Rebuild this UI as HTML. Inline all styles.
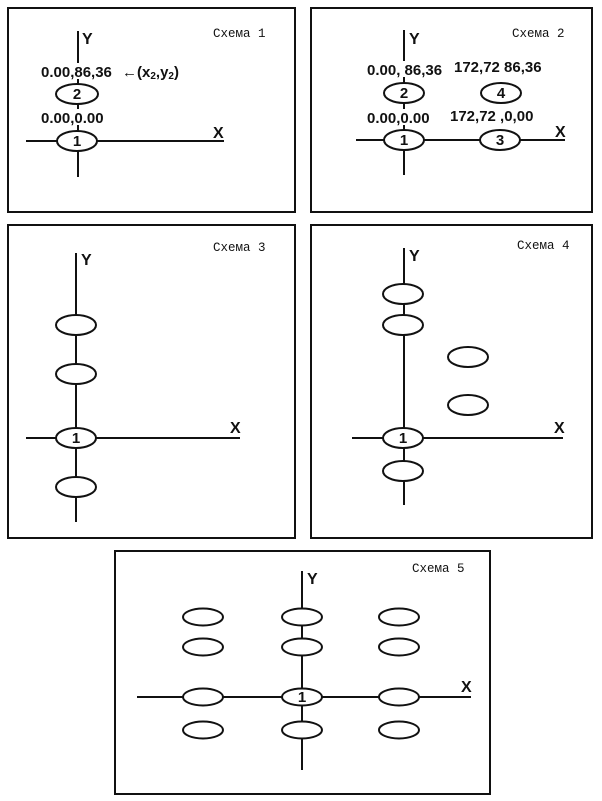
<!DOCTYPE html>
<html><head><meta charset="utf-8"><style>
html,body{margin:0;padding:0;background:#fff;}
svg{display:block;}
.b{fill:none;stroke:#111;stroke-width:2;}
.l{stroke:#111;stroke-width:2;}
.e{fill:#fff;stroke:#111;stroke-width:2;}
.s{font-family:"Liberation Mono",monospace;font-size:12.5px;fill:#111;}
.n{font-family:"Liberation Sans",sans-serif;font-size:15px;font-weight:bold;fill:#111;}
.a{font-family:"Liberation Sans",sans-serif;font-size:16px;font-weight:bold;fill:#111;}
</style></head><body>
<svg width="602" height="801" viewBox="0 0 602 801" xmlns="http://www.w3.org/2000/svg">
<!-- Panel 1 -->
<rect class="b" x="8" y="8" width="287" height="204"/>
<text class="s" x="213" y="37">Схема 1</text>
<line class="l" x1="78" y1="31" x2="78" y2="177"/>
<line class="l" x1="26" y1="141" x2="224" y2="141"/>
<text class="a" x="82" y="44">Y</text>
<text class="a" x="213" y="138">X</text>
<rect x="40" y="63" width="80" height="16" fill="#fff"/>
<text class="n" x="41" y="77">0.00,86,36</text>
<text class="n" x="122" y="77" font-size="16">←(x<tspan font-size="10" dy="2">2</tspan><tspan dy="-2">,y</tspan><tspan font-size="10" dy="2">2</tspan><tspan dy="-2">)</tspan></text>
<ellipse class="e" cx="77" cy="94" rx="21" ry="10"/>
<text class="n" x="77" y="99" text-anchor="middle">2</text>
<rect x="40" y="109" width="76" height="16" fill="#fff"/>
<text class="n" x="41" y="123">0.00,0.00</text>
<ellipse class="e" cx="77" cy="141" rx="20" ry="10"/>
<text class="n" x="77" y="146" text-anchor="middle">1</text>

<!-- Panel 2 -->
<rect class="b" x="311" y="8" width="281" height="204"/>
<text class="s" x="512" y="37">Схема 2</text>
<line class="l" x1="404" y1="30" x2="404" y2="175"/>
<line class="l" x1="356" y1="140" x2="565" y2="140"/>
<text class="a" x="409" y="44">Y</text>
<text class="a" x="555" y="137">X</text>
<rect x="366" y="61" width="84" height="16" fill="#fff"/>
<text class="n" x="367" y="75">0.00, 86,36</text>
<text class="n" x="454" y="72">172,72  86,36</text>
<ellipse class="e" cx="404" cy="93" rx="20" ry="10"/>
<text class="n" x="404" y="98" text-anchor="middle">2</text>
<ellipse class="e" cx="501" cy="93" rx="20" ry="10"/>
<text class="n" x="501" y="98" text-anchor="middle">4</text>
<rect x="366" y="109" width="74" height="16" fill="#fff"/>
<text class="n" x="367" y="123">0.00,0.00</text>
<text class="n" x="450" y="121">172,72 ,0,00</text>
<ellipse class="e" cx="404" cy="140" rx="20" ry="10"/>
<text class="n" x="404" y="145" text-anchor="middle">1</text>
<ellipse class="e" cx="500" cy="140" rx="20" ry="10"/>
<text class="n" x="500" y="145" text-anchor="middle">3</text>

<!-- Panel 3 -->
<rect class="b" x="8" y="225" width="287" height="313"/>
<text class="s" x="213" y="251">Схема 3</text>
<line class="l" x1="76" y1="253" x2="76" y2="522"/>
<line class="l" x1="26" y1="438" x2="240" y2="438"/>
<text class="a" x="81" y="265">Y</text>
<text class="a" x="230" y="433">X</text>
<ellipse class="e" cx="76" cy="325" rx="20" ry="10"/>
<ellipse class="e" cx="76" cy="374" rx="20" ry="10"/>
<ellipse class="e" cx="76" cy="438" rx="20" ry="10"/>
<text class="n" x="76" y="443" text-anchor="middle">1</text>
<ellipse class="e" cx="76" cy="487" rx="20" ry="10"/>

<!-- Panel 4 -->
<rect class="b" x="311" y="225" width="281" height="313"/>
<text class="s" x="517" y="249">Схема 4</text>
<line class="l" x1="404" y1="248" x2="404" y2="505"/>
<line class="l" x1="352" y1="438" x2="563" y2="438"/>
<text class="a" x="409" y="261">Y</text>
<text class="a" x="554" y="433">X</text>
<ellipse class="e" cx="403" cy="294" rx="20" ry="10"/>
<ellipse class="e" cx="403" cy="325" rx="20" ry="10"/>
<ellipse class="e" cx="468" cy="357" rx="20" ry="10"/>
<ellipse class="e" cx="468" cy="405" rx="20" ry="10"/>
<ellipse class="e" cx="403" cy="438" rx="20" ry="10"/>
<text class="n" x="403" y="443" text-anchor="middle">1</text>
<ellipse class="e" cx="403" cy="471" rx="20" ry="10"/>

<!-- Panel 5 -->
<rect class="b" x="115" y="551" width="375" height="243"/>
<text class="s" x="412" y="572">Схема 5</text>
<line class="l" x1="302" y1="571" x2="302" y2="770"/>
<line class="l" x1="137" y1="697" x2="471" y2="697"/>
<text class="a" x="307" y="584">Y</text>
<text class="a" x="461" y="692">X</text>
<g>
<ellipse class="e" cx="203" cy="617" rx="20" ry="8.5"/>
<ellipse class="e" cx="302" cy="617" rx="20" ry="8.5"/>
<ellipse class="e" cx="399" cy="617" rx="20" ry="8.5"/>
<ellipse class="e" cx="203" cy="647" rx="20" ry="8.5"/>
<ellipse class="e" cx="302" cy="647" rx="20" ry="8.5"/>
<ellipse class="e" cx="399" cy="647" rx="20" ry="8.5"/>
<ellipse class="e" cx="203" cy="697" rx="20" ry="8.5"/>
<ellipse class="e" cx="302" cy="697" rx="20" ry="8.5"/>
<ellipse class="e" cx="399" cy="697" rx="20" ry="8.5"/>
<ellipse class="e" cx="203" cy="730" rx="20" ry="8.5"/>
<ellipse class="e" cx="302" cy="730" rx="20" ry="8.5"/>
<ellipse class="e" cx="399" cy="730" rx="20" ry="8.5"/>
</g>
<text class="n" x="302" y="702" text-anchor="middle">1</text>
</svg>
</body></html>
